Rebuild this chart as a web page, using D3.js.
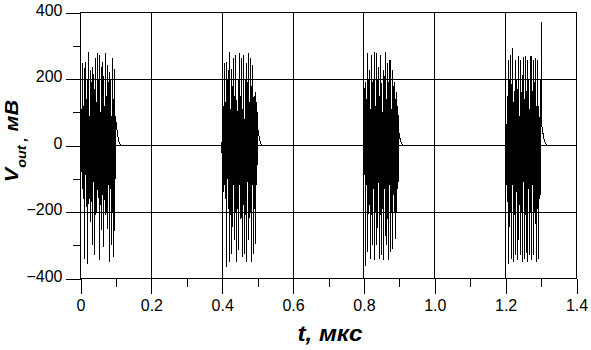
<!DOCTYPE html>
<html>
<head>
<meta charset="utf-8">
<script src="https://cdn.jsdelivr.net/npm/d3@7"></script>
<style>
body { margin: 0; background: #fff; }
svg { display: block; font-family: "Liberation Sans", Arial, sans-serif; }
</style>
</head>
<body>
<script>
// start time of each burst, mks, and spacing of the read samples
var burstStart = [-0.0016, 0.397, 0.7984, 1.198];
var sampleStep = 0.0016;

// Vout samples, mV (ends with the decay tail)
var burst1 = [0, 30, -80, 110, -130, 247, -160, 120, -340, 251, -90, 140, -185, 200, -355, 280,
  -120, 90, -230, 226, -170, 190, -300, 236, -110, 170, -330, 262, -210, 130, -200, 277,
  -150, 200, -345, 272, -180, 100, -255, 251, -150, 210, -305, 120, -165, 277, -210, 150,
  -250, 241, -120, 190, -350, 220, -130, 90, -300, 262, -200, 140, -335, 231, -100, 90,
  61, 50, 38, 27, 18, 11, 6, 3, 1, 0];
var burst2 = [0, -22, 40, -110, 120, -140, 247, -160, 130, -365, 251, -100, 200, -190, 282, -350,
  110, -210, 231, -325, 180, -120, 262, -285, 150, -200, 272, -350, 90, -190, 200, -315,
  277, -120, 150, -220, 262, -335, 110, -180, 272, -325, 80, -210, 247, -350, 190, -110,
  277, -285, 130, -200, 262, -350, 180, -120, 241, -325, 150, -190, 160, -295, 130, -120, 100,
  46, 36, 26, 17, 10, 5, 2, 0];
var burst3 = [0, 40, -90, 191, -363, 140, -120, 277, -320, 200, -180, 226, -340, 110, -210, 272,
  -300, 190, -130, 282, -345, 120, -200, 277, -300, 200, -110, 236, -340, 150, -210, 272,
  -330, 100, -190, 226, -345, 210, -130, 282, -300, 140, -220, 247, -345, 190, -120, 257,
  -320, 110, -200, 226, -310, 180, -120, 190, -280, 140, -200, 160, -130, 120, -110,
  36, 28, 20, 13, 8, 4, 2, 1, 0];
var burst4 = [0, -10, 60, -120, 150, -170, 257, -355, 200, -200, 272, -340, 185, -120, 292, -350,
  110, -210, 258, -330, 200, -140, 170, -345, 270, -180, 90, -330, 258, -200, 160, -350,
  265, -110, 140, -340, 270, -210, 165, -350, 258, -130, 200, -330, 110, -200, 268, -345,
  165, -120, 258, -330, 190, -200, 262, -350, 120, -190, 258, -340, 120, -160, 90, -150, 370, 60,
  50, 38, 26, 20, 14, 9, 5, 2, 0];
var bursts = [burst1, burst2, burst3, burst4];

var xTicks = [0, 0.2, 0.4, 0.6, 0.8, 1.0, 1.2, 1.4];
var xTickLabels = ["0", "0.2", "0.4", "0.6", "0.8", "1.0", "1.2", "1.4"];
var xMinor = [0.1, 0.3, 0.5, 0.7, 0.9, 1.1, 1.3];
var yTicks = [-400, -200, 0, 200, 400];
var yMinor = [-300, -100, 100, 300];

var width = 591, height = 350;
var svg = d3.select('body').append('svg')
    .attr('width', width)
    .attr('height', height);

var x = d3.scaleLinear().domain([0, 1.4]).range([80.5, 576.5]);
var y = d3.scaleLinear().domain([-400, 400]).range([278.5, 12.5]);

// grid
var grid = svg.append('g')
    .attr('stroke', '#000')
    .attr('shape-rendering', 'crispEdges');
grid.selectAll('.vg').data(xTicks.slice(1, -1)).enter().append('line')
    .attr('x1', function (d) { return x(d); })
    .attr('x2', function (d) { return x(d); })
    .attr('y1', y(400)).attr('y2', y(-400));
grid.selectAll('.hg').data(yTicks.slice(1, -1)).enter().append('line')
    .attr('x1', x(0)).attr('x2', x(1.4))
    .attr('y1', function (d) { return y(d); })
    .attr('y2', function (d) { return y(d); });

// signal
var points = [];
bursts.forEach(function (b, k) {
    b.forEach(function (v, i) {
        var t = Math.max(0, burstStart[k] + i * sampleStep);
        points.push({ t: t, v: v });
    });
});
points.push({ t: 1.4, v: 0 });

var line = d3.line()
    .x(function (d) { return x(d.t); })
    .y(function (d) { return y(d.v); });

svg.append('path')
    .datum(points)
    .attr('d', line)
    .attr('fill', 'none')
    .attr('stroke', '#000')
    .attr('stroke-width', 1)
    .attr('shape-rendering', 'crispEdges');

// frame
svg.append('rect')
    .attr('x', x(0)).attr('y', y(400))
    .attr('width', x(1.4) - x(0))
    .attr('height', y(-400) - y(400))
    .attr('fill', 'none')
    .attr('stroke', '#000')
    .attr('shape-rendering', 'crispEdges');

// axes
function styleAxis(g) {
    g.select('.domain').remove();
    g.selectAll('line').attr('stroke', '#000').attr('shape-rendering', 'crispEdges');
    g.selectAll('text').attr('fill', '#000').style('font-size', '16px');
}

svg.append('g')
    .attr('transform', 'translate(0,' + y(-400) + ')')
    .call(d3.axisBottom(x).tickValues(xTicks)
        .tickFormat(function (d, i) { return xTickLabels[i]; })
        .tickSize(15).tickPadding(6))
    .call(styleAxis);
svg.append('g')
    .attr('transform', 'translate(0,' + y(-400) + ')')
    .call(d3.axisBottom(x).tickValues(xMinor).tickFormat('').tickSize(8))
    .call(styleAxis);

svg.append('g')
    .attr('transform', 'translate(' + x(0) + ',0)')
    .call(d3.axisLeft(y).tickValues(yTicks).tickSize(15).tickPadding(3))
    .call(styleAxis)
    .selectAll('text').attr('dy', '0.17em');
svg.append('g')
    .attr('transform', 'translate(' + x(0) + ',0)')
    .call(d3.axisLeft(y).tickValues(yMinor).tickFormat('').tickSize(8))
    .call(styleAxis);

// axis titles
svg.append('text')
    .attr('transform', 'translate(330,341) scale(1.1,1)')
    .attr('text-anchor', 'middle')
    .style('font-size', '22px')
    .style('font-weight', 'bold')
    .style('font-style', 'italic')
    .text('t, мкс');

var yt = svg.append('text')
    .attr('transform', 'translate(17.5,141) rotate(-90) scale(1.2,1)')
    .attr('text-anchor', 'middle')
    .style('font-size', '18px')
    .style('font-weight', 'bold')
    .style('font-style', 'italic');
yt.append('tspan').text('V');
yt.append('tspan').attr('dy', 8).style('font-size', '12px').text('out ,');
yt.append('tspan').attr('dy', -8).text(' мВ');
</script>
</body>
</html>
